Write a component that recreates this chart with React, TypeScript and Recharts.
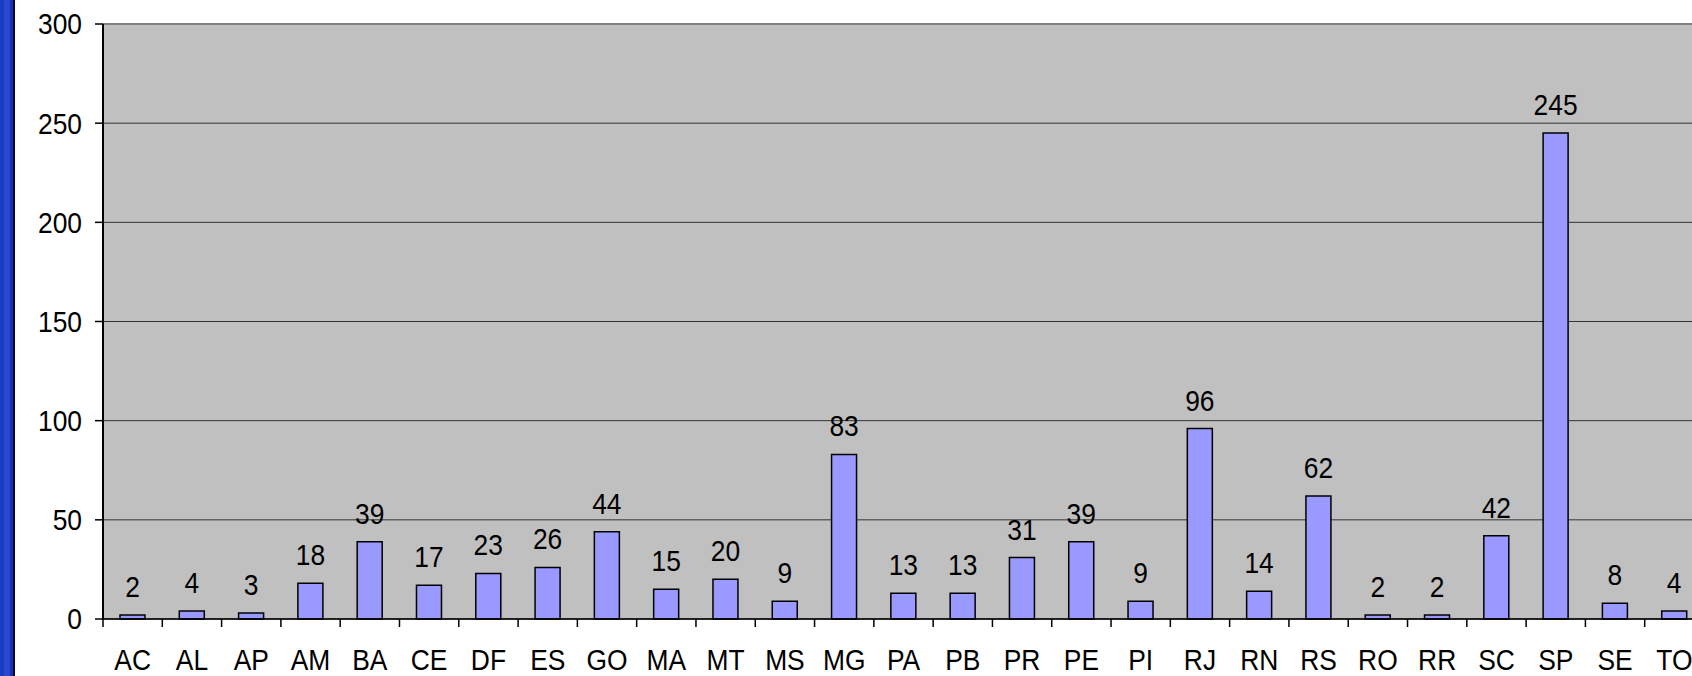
import React from 'react';
import { BarChart, Bar, XAxis, YAxis, CartesianGrid, ReferenceLine, LabelList } from 'recharts';

const states = ['AC', 'AL', 'AP', 'AM', 'BA', 'CE', 'DF', 'ES', 'GO', 'MA', 'MT', 'MS', 'MG', 'PA', 'PB', 'PR', 'PE', 'PI', 'RJ', 'RN', 'RS', 'RO', 'RR', 'SC', 'SP', 'SE', 'TO'];
const counts = [2, 4, 3, 18, 39, 17, 23, 26, 44, 15, 20, 9, 83, 13, 13, 31, 39, 9, 96, 14, 62, 2, 2, 42, 245, 8, 4];
const yTicks = [0, 50, 100, 150, 200, 250, 300];

const data = states.map((s, i) => ({ uf: s, value: counts[i] }));

const W = 1712;
const H = 676;
const LEFT = 103;
const RIGHT_MARGIN = 8;
const FONT = '"Liberation Sans", Arial, sans-serif';
const FS = 29;
const SX = 0.91; // text in the original is a bit condensed
const TICK = 8;
const X_MARGIN = 22;

const halfBand = (W - LEFT - RIGHT_MARGIN) / states.length / 2;

// text drawn at (x, y) and squeezed horizontally
function Squeezed({ x, y, anchor, dy, children }: any) {
  return (
    <text
      transform={`translate(${x},${y}) scale(${SX},1)`}
      x={0}
      y={0}
      dy={dy}
      textAnchor={anchor}
      fill="#000"
      fontSize={FS}
      fontFamily={FONT}
    >
      {children}
    </text>
  );
}

function XTick(props: any) {
  const { x, y, payload } = props;
  const axisY = y - TICK - X_MARGIN;
  return (
    <g>
      <line x1={x - halfBand} x2={x - halfBand} y1={axisY} y2={axisY + TICK} stroke="#000" strokeWidth={1.5} />
      <Squeezed x={x} y={y} anchor="middle" dy="0.71em">
        {payload.value}
      </Squeezed>
    </g>
  );
}

function YTick(props: any) {
  const { x, y, payload } = props;
  return (
    <Squeezed x={x} y={y} anchor="end" dy="0.36em">
      {payload.value}
    </Squeezed>
  );
}

function ValueLabel(props: any) {
  const { x, y, width, value } = props;
  return (
    <Squeezed x={x + width / 2} y={y - 18} anchor="middle" dy={0}>
      {value}
    </Squeezed>
  );
}

export default function App() {
  return (
    <div
      style={{
        position: 'fixed',
        left: 0,
        top: 0,
        width: 1692,
        height: 676,
        overflow: 'hidden',
        background: '#fff',
      }}
    >
      {/* blue slide border on the left */}
      <div
        style={{
          position: 'absolute',
          left: 0,
          top: 0,
          width: 15,
          height: '100%',
          background:
            'linear-gradient(to right, #1c3cc0 0px, #1c3cc0 4px, #2848d4 4px, #2848d4 10px, #1a30b0 10px, #1a30b0 13px, #0a0a3a 13px, #0a0a3a 15px)',
          zIndex: 2,
        }}
      />
      <BarChart
        width={W}
        height={H}
        data={data}
        margin={{ top: 24, right: RIGHT_MARGIN, bottom: 0, left: 0 }}
        barSize={25}
      >
        <CartesianGrid vertical={false} fill="#C0C0C0" stroke="#333" strokeWidth={1} />
        <ReferenceLine y={300} stroke="#808080" strokeWidth={2} />
        <XAxis
          dataKey="uf"
          interval={0}
          height={57}
          tickLine={false}
          tickSize={TICK}
          tickMargin={X_MARGIN}
          axisLine={{ stroke: '#000', strokeWidth: 1.5 }}
          tick={<XTick />}
        />
        <YAxis
          width={LEFT}
          domain={[0, 300]}
          ticks={yTicks}
          interval={0}
          tickSize={TICK}
          tickMargin={13}
          axisLine={{ stroke: '#000', strokeWidth: 2 }}
          tickLine={{ stroke: '#000', strokeWidth: 1.5 }}
          tick={<YTick />}
        />
        <Bar dataKey="value" fill="#9999FF" stroke="#000" strokeWidth={1.5} isAnimationActive={false}>
          <LabelList dataKey="value" content={<ValueLabel />} />
        </Bar>
      </BarChart>
    </div>
  );
}
